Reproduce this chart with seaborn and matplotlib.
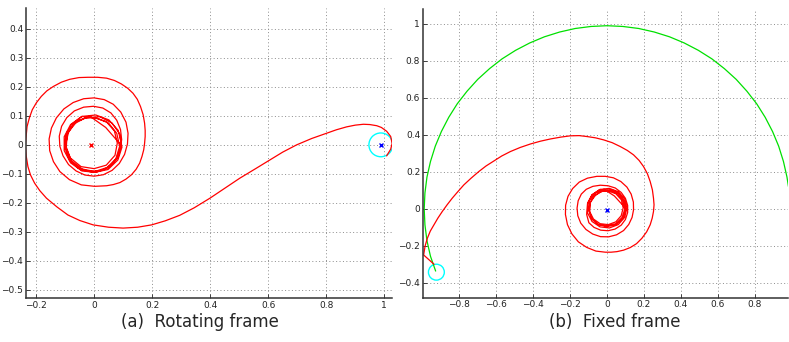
import matplotlib
matplotlib.use("Agg")
import matplotlib.pyplot as plt
import seaborn as sns
import pandas as pd

# ---- (a) rotating frame: trajectory ----
rot_x = [1.008, 1.022, 1.027, 1.022, 1.008, 0.990, 0.974, 0.950, 0.928, 0.900, 0.870, 0.835,
         0.801, 0.750, 0.698, 0.650, 0.606, 0.555, 0.502, 0.450, 0.399, 0.345, 0.295, 0.245,
         0.198, 0.150, 0.100, 0.050, -0.003, -0.049, -0.090, -0.128, -0.164, -0.187,
         -0.205, -0.219, -0.228, -0.234, -0.237, -0.234, -0.231, -0.223, -0.213, -0.199, -0.182,
         -0.163, -0.141, -0.113, -0.084, -0.052, -0.021, 0.012, 0.043, 0.070, 0.094, 0.116,
         0.134, 0.149, 0.160, 0.169, 0.174, 0.176, 0.176, 0.174, 0.171, 0.165, 0.157, 0.145,
         0.129, 0.110, 0.089, 0.066, 0.043, 0.002,
         -0.044, -0.085, -0.118, -0.140, -0.153, -0.155, -0.147, -0.130, -0.104, -0.072, -0.036,
         0.000, 0.035, 0.066, 0.092, 0.110, 0.117, 0.115, 0.105, 0.087, 0.062, 0.032, 0.000,
         -0.032, -0.062, -0.088, -0.107, -0.118, -0.120, -0.112, -0.094, -0.068, -0.036, -0.002,
         0.030, 0.058, 0.078, 0.091, 0.095, 0.090, 0.078,
         0.060, 0.030, -0.015, -0.055, -0.085, -0.100, -0.098, -0.078, -0.042,
         0.006, 0.051, 0.083, 0.094, 0.083, 0.051, 0.006, -0.042, -0.081, -0.103, -0.103, -0.081, -0.042,
         0.010, 0.050, 0.078, 0.088, 0.075, 0.045, 0.002, -0.042, -0.078, -0.096, -0.093, -0.070, -0.032,
         0.000, 0.042, 0.070, 0.080, 0.072, 0.042, 0.000, -0.045, -0.082, -0.098, -0.092, -0.062, -0.025,
         0.020, 0.062, 0.088, 0.096, 0.082, 0.048, 0.000, -0.048, -0.085, -0.099, -0.088, -0.058, -0.015,
         0.040, 0.094]
rot_y = [-0.038, -0.015, 0.005, 0.029, 0.047, 0.060, 0.066, 0.070, 0.071, 0.068, 0.062, 0.052,
         0.040, 0.022, 0.000, -0.025, -0.052, -0.083, -0.115, -0.150, -0.184, -0.217, -0.243, -0.262,
         -0.276, -0.284, -0.287, -0.284, -0.276, -0.261, -0.242, -0.214, -0.184, -0.158,
         -0.132, -0.104, -0.075, -0.038, 0.000, 0.032, 0.063, 0.093, 0.121, 0.145, 0.167,
         0.186, 0.201, 0.216, 0.226, 0.232, 0.233, 0.233, 0.230, 0.222, 0.210, 0.195,
         0.178, 0.157, 0.132, 0.104, 0.075, 0.050, 0.029, 0.005, -0.017, -0.040, -0.063, -0.084,
         -0.103, -0.118, -0.130, -0.137, -0.141, -0.143,
         -0.138, -0.120, -0.092, -0.058, -0.020, 0.020, 0.058, 0.093, 0.124, 0.146, 0.159,
         0.162, 0.156, 0.140, 0.113, 0.078, 0.040, 0.003, -0.033, -0.064, -0.088, -0.103, -0.108,
         -0.104, -0.090, -0.068, -0.038, -0.005, 0.030, 0.064, 0.094, 0.117, 0.130, 0.133,
         0.127, 0.110, 0.085, 0.053, 0.018, -0.016, -0.045,
         -0.068, -0.088, -0.092, -0.080, -0.052, -0.012, 0.032, 0.070, 0.098,
         0.103, 0.086, 0.050, 0.004, -0.043, -0.078, -0.095, -0.090, -0.062, -0.020, 0.028, 0.070, 0.098,
         0.092, 0.075, 0.040, -0.005, -0.048, -0.078, -0.092, -0.083, -0.055, -0.012, 0.035, 0.072, 0.092,
         0.094, 0.080, 0.048, 0.006, -0.036, -0.070, -0.082, -0.075, -0.045, -0.002, 0.045, 0.080, 0.094,
         0.097, 0.075, 0.038, -0.008, -0.052, -0.085, -0.095, -0.085, -0.050, -0.004, 0.045, 0.082, 0.099,
         0.060, -0.002]

# ---- (b) fixed frame: Moon orbit (green) and trajectory (red) ----
moon_x = [-0.928, -0.956, -0.975, -0.986, -0.990, -0.986, -0.975, -0.956, -0.930, -0.897, -0.857,
          -0.811, -0.758, -0.700, -0.636, -0.568, -0.495, -0.418, -0.339, -0.256, -0.172, -0.086,
          0.000, 0.086, 0.172, 0.256, 0.339, 0.418, 0.495, 0.568, 0.636, 0.700, 0.758, 0.811,
          0.857, 0.897, 0.930, 0.956, 0.975, 0.983]
moon_y = [-0.336, -0.256, -0.172, -0.086, 0.000, 0.086, 0.172, 0.256, 0.339, 0.418, 0.495,
          0.568, 0.636, 0.700, 0.758, 0.811, 0.857, 0.897, 0.930, 0.956, 0.975, 0.986,
          0.990, 0.986, 0.975, 0.956, 0.930, 0.897, 0.857, 0.811, 0.758, 0.700, 0.636, 0.568,
          0.495, 0.418, 0.339, 0.256, 0.172, 0.121]

fix_x = [-0.937, -0.993, -0.985, -0.973, -0.957, -0.937, -0.916, -0.892, -0.866, -0.838, -0.807,
         -0.775, -0.736, -0.694, -0.655, -0.613, -0.570, -0.523, -0.470, -0.414, -0.360, -0.306,
         -0.250, -0.198, -0.150, -0.108, -0.062, -0.018, 0.028, 0.072, 0.110, 0.144, 0.174,
         0.198, 0.219, 0.234, 0.246, 0.252, 0.255, 0.252, 0.245, 0.234, 0.215, 0.189, 0.160,
         0.126, 0.090, 0.054, 0.022, -0.009,
         -0.060, -0.110, -0.155, -0.190, -0.214, -0.225, -0.224, -0.211, -0.186, -0.150, -0.106,
         -0.055, -0.009, 0.035, 0.075, 0.108, 0.131, 0.143, 0.144, 0.136, 0.118, 0.090, 0.052,
         0.009, -0.035, -0.077, -0.114, -0.142, -0.158, -0.162, -0.156, -0.139, -0.112, -0.076,
         -0.036, 0.006, 0.045, 0.077, 0.100, 0.112, 0.112, 0.100, 0.077, 0.044, 0.006, -0.034,
         -0.070, -0.098, -0.110, -0.105, -0.081, -0.038,
         0.013, 0.061, 0.096, 0.108, 0.096, 0.061, 0.013, -0.038, -0.081, -0.105, -0.105, -0.081, -0.038,
         0.016, 0.058, 0.086, 0.097, 0.082, 0.048, 0.000, -0.048, -0.082, -0.096, -0.090, -0.062, -0.022,
         0.007, 0.048, 0.078, 0.088, 0.077, 0.048, 0.007, -0.037, -0.073, -0.093, -0.093, -0.073, -0.037,
         0.025, 0.068, 0.094, 0.102, 0.087, 0.050, 0.001, -0.047, -0.084, -0.100, -0.094, -0.062, -0.016,
         0.040, 0.100]
fix_y = [-0.299, -0.249, -0.200, -0.159, -0.120, -0.086, -0.050, -0.014, 0.022, 0.058, 0.094,
         0.130, 0.166, 0.202, 0.232, 0.259, 0.286, 0.310, 0.332, 0.351, 0.366, 0.378,
         0.388, 0.395, 0.396, 0.391, 0.384, 0.373, 0.358, 0.337, 0.316, 0.292, 0.262,
         0.229, 0.190, 0.148, 0.103, 0.058, 0.022, -0.014, -0.050, -0.086, -0.124, -0.159, -0.188,
         -0.209, -0.223, -0.231, -0.234, -0.234,
         -0.228, -0.208, -0.178, -0.135, -0.085, -0.030, 0.020, 0.068, 0.110, 0.145, 0.166,
         0.176, 0.176, 0.168, 0.148, 0.118, 0.080, 0.037, -0.005, -0.046, -0.084, -0.117, -0.140,
         -0.151, -0.150, -0.136, -0.111, -0.077, -0.037, 0.004, 0.044, 0.080, 0.106, 0.122,
         0.128, 0.125, 0.113, 0.089, 0.057, 0.019, -0.020, -0.057, -0.088, -0.109, -0.118, -0.115,
         -0.100, -0.075, -0.030, 0.030, 0.076, 0.105,
         0.111, 0.093, 0.054, 0.004, -0.046, -0.085, -0.103, -0.097, -0.068, -0.022, 0.030, 0.076, 0.105,
         0.100, 0.082, 0.046, 0.000, -0.046, -0.080, -0.092, -0.084, -0.054, -0.010, 0.036, 0.074, 0.098,
         0.097, 0.082, 0.049, 0.006, -0.037, -0.070, -0.085, -0.080, -0.055, -0.016, 0.028, 0.067, 0.092,
         0.104, 0.082, 0.042, -0.004, -0.051, -0.084, -0.096, -0.084, -0.051, -0.002, 0.048, 0.086, 0.106,
         0.070, 0.004]

# bodies and sphere of influence (centre x, centre y, radius)
earth_rot = (-0.012, 0.0)
moon_rot = (0.988, 0.0)
soi_rot = (0.988, 0.0, 0.041)
earth_fix = (0.0, -0.004)
soi_fix = (-0.924, -0.342, 0.043)

# ticks
xt_a = [-0.2, 0, 0.2, 0.4, 0.6, 0.8, 1]
yt_a = [-0.5, -0.4, -0.3, -0.2, -0.1, 0, 0.1, 0.2, 0.3, 0.4]
xt_b = [-0.8, -0.6, -0.4, -0.2, 0, 0.2, 0.4, 0.6, 0.8]
yt_b = [-0.4, -0.2, 0, 0.2, 0.4, 0.6, 0.8, 1]


def fmt(v):
    return ('%g' % v).replace('-', '\u2212')


sns.set_style('white')
plt.rcParams['font.family'] = ['DejaVu Sans']

fig = plt.figure(figsize=(7.89, 3.42), dpi=100)
ax1 = fig.add_axes([0.033, 0.1287, 0.464, 0.848])
ax2 = fig.add_axes([0.536, 0.1295, 0.4626, 0.844])

df_a = pd.DataFrame({'x': rot_x, 'y': rot_y})
sns.lineplot(data=df_a, x='x', y='y', sort=False, estimator=None, color='red', lw=0.9, ax=ax1)
ax1.add_patch(plt.Circle(soi_rot[:2], soi_rot[2], fill=False, color='cyan', lw=1.0))
ax1.plot(*earth_rot, marker='x', color='red', ms=3, mew=1)
ax1.plot(*moon_rot, marker='x', color='blue', ms=3, mew=1)

df_moon = pd.DataFrame({'x': moon_x, 'y': moon_y})
df_b = pd.DataFrame({'x': fix_x, 'y': fix_y})
sns.lineplot(data=df_moon, x='x', y='y', sort=False, estimator=None, color='#00e000', lw=0.9, ax=ax2)
sns.lineplot(data=df_b, x='x', y='y', sort=False, estimator=None, color='red', lw=0.9, ax=ax2)
ax2.add_patch(plt.Circle(soi_fix[:2], soi_fix[2], fill=False, color='cyan', lw=1.0))
ax2.plot(*earth_fix, marker='x', color='blue', ms=3, mew=1)

for ax, xt, yt, xl, yl in [(ax1, xt_a, yt_a, (-0.2345, 1.027), (-0.528, 0.472)),
                           (ax2, xt_b, yt_b, (-0.997, 0.98), (-0.48, 1.08))]:
    ax.set_xlim(*xl)
    ax.set_ylim(*yl)
    ax.set_xticks(xt)
    ax.set_yticks(yt)
    ax.set_xticklabels([fmt(v) for v in xt])
    ax.set_yticklabels([fmt(v) for v in yt])
    ax.set_xlabel('')
    ax.set_ylabel('')
    ax.grid(True, linestyle=(0, (1, 2.5)), color='#8c8c8c', lw=0.7)
    ax.tick_params(direction='in', length=3, width=0.6, labelsize=6.5, pad=2,
                   colors='#222222', bottom=True, left=True)
    for side in ['top', 'right']:
        ax.spines[side].set_visible(False)
    for side in ['left', 'bottom']:
        ax.spines[side].set_color('#333333')
        ax.spines[side].set_linewidth(1.1)

fig.text(0.2535, 0.032, '(a)  Rotating frame', ha='center', va='bottom', fontsize=12)
fig.text(0.779, 0.032, '(b)  Fixed frame', ha='center', va='bottom', fontsize=12)

fig.savefig('out.png', dpi=100)
